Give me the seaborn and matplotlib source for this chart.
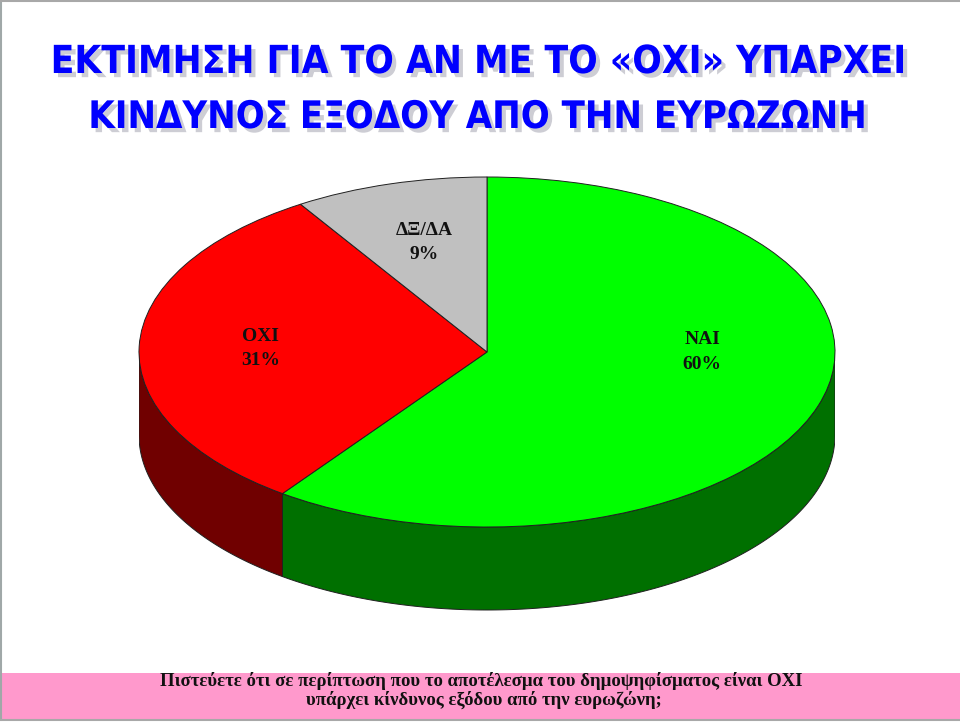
import numpy as np
import matplotlib
matplotlib.use("Agg")
import matplotlib.pyplot as plt
import seaborn as sns
from matplotlib import patheffects as pe
from matplotlib import font_manager as fm
from matplotlib.patches import Rectangle

# data
labels = ["ΝΑΙ", "ΟΧΙ", "ΔΞ/ΔΑ"]
values = [60, 31, 9]
top_colors = ["#00FF00", "#FF0000", "#C0C0C0"]
side_colors = ["#007000", "#700000", "#606060"]

title_lines = ["ΕΚΤΙΜΗΣΗ ΓΙΑ ΤΟ ΑΝ ΜΕ ΤΟ «ΟΧΙ» ΥΠΑΡΧΕΙ",
               "ΚΙΝΔΥΝΟΣ ΕΞΟΔΟΥ ΑΠΟ ΤΗΝ ΕΥΡΩΖΩΝΗ"]
question_lines = ["Πιστεύετε ότι σε περίπτωση που το αποτέλεσμα του δημοψηφίσματος είναι ΟΧΙ",
                  "υπάρχει κίνδυνος εξόδου από την ευρωζώνη;"]

sns.set_theme(style="white")
plt.rcParams["font.family"] = ["DejaVu Sans"]

names = {f.name for f in fm.fontManager.ttflist}
title_font = "Liberation Sans Narrow" if "Liberation Sans Narrow" in names else "DejaVu Sans"
serif_font = "Liberation Serif" if "Liberation Serif" in names else "DejaVu Serif"

W, H = 960, 722
fig = plt.figure(figsize=(W / 100, H / 100), dpi=100)
fig.patch.set_facecolor("white")


def px_axes(left, top, width, height):
    return fig.add_axes([left / W, 1 - (top + height) / H, width / W, height / H])


# background: pink band + frame
bg = fig.add_axes([0, 0, 1, 1], zorder=-5)
bg.set_xlim(0, W)
bg.set_ylim(H, 0)
bg.axis("off")
bg.add_patch(Rectangle((0, 673), W, 47, facecolor="#FF99CC", edgecolor="none"))
bg.plot([0.5, 0.5], [0, H - 2], color="#A0A8A8", lw=1.5)
bg.plot([0, W], [0.7, 0.7], color="#A8A8A8", lw=1.5)
bg.plot([0, W], [H - 2, H - 2], color="#A8A8A8", lw=1.5)

# pie (top face ellipse: rx=348px, ry=175px, centre at (487, 352))
RY = 175
DEPTH = 83 / RY
ax = px_axes(139, 352 - 1.05 * RY, 696, 2.65 * RY)
wedges, _ = ax.pie(values, colors=top_colors, startangle=90, counterclock=False,
                   wedgeprops=dict(edgecolor="#202020", linewidth=0.7))
ax.set_aspect("auto")
ax.set_xlim(-1, 1)
ax.set_ylim(-1.6, 1.05)
ax.axis("off")

# visible sides (lower half of the ellipse)
for w, c in zip(wedges, side_colors):
    for lo, hi in [(-540, -360), (-180, 0), (180, 360)]:
        a = max(w.theta1, lo)
        b = min(w.theta2, hi)
        if b > a:
            t = np.radians(np.linspace(a, b, 200))
            xs = np.concatenate([np.cos(t), np.cos(t[::-1])])
            ys = np.concatenate([np.sin(t), np.sin(t[::-1]) - DEPTH])
            ax.fill(xs, ys, facecolor=c, edgecolor="#202020", lw=0.7, zorder=0)

# labels sit on the upper part of the top face
for w, lab, v in zip(wedges, labels, values):
    mid = np.radians((w.theta1 + w.theta2) / 2)
    lx = 0.65 * np.cos(mid)
    ly = max(0.65 * np.sin(mid), 0.0)
    ax.text(lx, ly, f"{lab}\n{v}%",
            ha="center", va="center", fontfamily=serif_font, fontweight="bold",
            fontsize=14, linespacing=1.55, color="#111111")

# title
shadow = [pe.SimplePatchShadow(offset=(3, -3), shadow_rgbFace="#9090A0", alpha=0.45), pe.Normal()]
t1 = fig.text(478 / W, 1 - 62 / H, title_lines[0], ha="center", va="center",
              fontfamily=title_font, fontweight="heavy", fontstretch="condensed",
              fontsize=40, color="#0000FF", path_effects=shadow)
t2 = fig.text(477 / W, 1 - 118 / H, title_lines[1], ha="center", va="center",
              fontfamily=title_font, fontweight="heavy", fontstretch="condensed",
              fontsize=40, color="#0000FF", path_effects=shadow)

q1 = fig.text(481 / W, 1 - 686 / H, question_lines[0], ha="center", va="baseline",
              fontfamily=serif_font, fontweight="bold", fontsize=12, color="#111111")
q2 = fig.text(484 / W, 1 - 705 / H, question_lines[1], ha="center", va="baseline",
              fontfamily=serif_font, fontweight="bold", fontsize=12, color="#111111")

# scale texts to the widths measured on the picture
fig.canvas.draw()
r = fig.canvas.get_renderer()
for txt, width in [(t1, 855), (t2, 778), (q1, 638)]:
    bb = txt.get_window_extent(r)
    txt.set_fontsize(txt.get_fontsize() * width / bb.width)
q2.set_fontsize(q1.get_fontsize())

fig.savefig("out.png", dpi=100, facecolor="white")
